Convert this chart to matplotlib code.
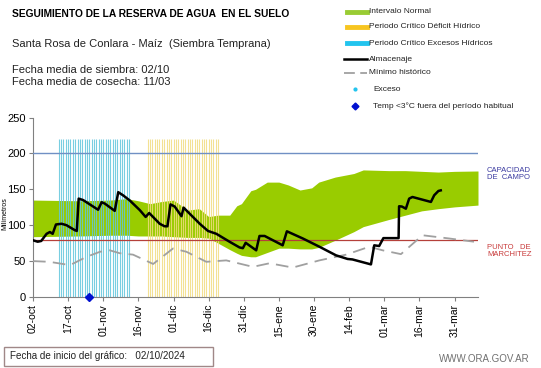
import numpy as np
import matplotlib.pyplot as plt
from matplotlib.lines import Line2D
from matplotlib.patches import Rectangle

plt.rcParams['font.family'] = ['Liberation Sans', 'DejaVu Sans']

# --- Data (x = days since 02-oct) ---
tick_days = [0, 15, 30, 45, 60, 75, 90, 105, 120, 135, 150, 165, 180]
tick_labels = ['02-oct', '17-oct', '01-nov', '16-nov', '01-dic', '16-dic', '31-dic',
               '15-ene', '30-ene', '14-feb', '01-mar', '16-mar', '31-mar']

# Almacenaje (stored water, mm)
alm_days = [0, 2, 3.5, 5.8, 7.2, 8.4, 9.8, 12.2, 14.3, 17.9, 18.7, 19.5, 21.4, 27.8, 29.3,
            30.7, 34.9, 36.4, 38.5, 41.3, 45.6, 48.1, 49.6, 54.1, 56.2, 57.4, 58.7, 60.5,
            63.4, 64.3, 66.9, 71.2, 74.7, 78.3, 83.9, 88.2, 89.6, 90.8, 95.3, 96.7, 98.9,
            106.6, 108.4, 115.2, 122.3, 129.4, 134.3, 136.4, 144.3, 145.7, 147.8, 149.6,
            155, 156.1, 156.3, 157.5, 159.2, 160.6, 162, 169.9, 171.3, 173.1, 174.1]
alm_vals = [79, 77, 78, 88, 90.5, 88, 101, 102, 100, 93, 92, 137, 135, 121.5, 132,
            130, 120, 146, 141.5, 134.5, 121, 111.5, 117, 102, 98.5, 98.5, 129, 126,
            112.5, 124.5, 116, 102, 92, 88, 77, 69, 68, 75.5, 65, 85, 85,
            72, 91.5, 81.5, 70, 58, 53, 52.3, 45.4, 72, 71, 82,
            82, 82, 126.4, 126, 123, 137, 139.3, 132.4, 141.7, 147.7, 148.5]

# Mínimo histórico (mm)
min_days = [0, 7, 15.8, 22.9, 28.6, 32.8, 37, 42.7, 51.3, 59.8, 65.5, 74, 82.5, 93.9,
            101, 110.9, 122.3, 133.7, 143.6, 149.3, 157.1, 166.3, 177.7, 188.3]
min_vals = [50, 49, 44.4, 56, 63, 65, 61, 59, 46, 67.6, 63, 49, 51, 42,
            47, 41, 51, 59, 70, 65, 59.7, 86, 81.5, 77]

# Intervalo normal (mm)
band_days = [0, 20, 33, 40, 45, 50, 55, 60, 66, 71, 75, 79, 84, 87, 89, 93, 95, 100, 105,
             109, 114, 119, 122, 129, 137, 141, 152, 159, 166, 173, 180, 190]
band_high = [135, 134, 135, 137, 134, 130, 133, 135, 121, 123, 112, 114, 114, 127, 130, 148,
             150, 160, 160, 156, 149, 152, 160, 167, 172, 177, 176, 176, 175, 174, 175, 175.5]
band_low = [84, 85, 86, 86, 85, 85, 85, 84, 83, 83, 82, 75, 66, 61, 58, 56, 56, 62, 68,
            68, 67, 67, 69, 79, 91, 98, 108, 114, 120, 123, 125.5, 128]

capacidad_campo = 201
punto_marchitez = 80
exceso_dias = np.arange(11, 42)
deficit_dias = np.arange(49, 80)
temp_frio_dias = [24]

# --- Figure ---
fig = plt.figure(figsize=(5.41, 3.68), dpi=100)
W, H = 541, 368
ax = fig.add_axes([33 / W, 1 - 297 / H, (478 - 33) / W, (297 - 117.5) / H])

ax.fill_between(band_days, band_low, band_high, color='#99cc00', lw=0, zorder=1)
ax.vlines(exceso_dias, 0, 220, color='#62c6dc', lw=0.8, alpha=0.85, zorder=2)
ax.vlines(deficit_dias, 0, 220, color='#f1dc80', lw=0.8, alpha=0.85, zorder=2)

ax.axhline(capacidad_campo, color='#7090c4', lw=1.0, zorder=3)
ax.axhline(punto_marchitez, color='#b5403a', lw=0.9, zorder=3)

ax.plot(min_days, min_vals, color='#a0a0a0', lw=1.3, dashes=(7, 4), zorder=4)
ax.plot(alm_days, alm_vals, color='black', lw=1.8, zorder=5)
ax.plot(temp_frio_dias, [0] * len(temp_frio_dias), 'D', color='#0010d0', ms=4.5,
        zorder=6, clip_on=False)

ax.set_xlim(0, 190)
ax.set_ylim(0, 250)
ax.set_yticks([0, 50, 100, 150, 200, 250])
ax.set_xticks(tick_days)
ax.set_xticklabels(tick_labels, rotation=90, fontsize=7.5)
ax.tick_params(axis='y', labelsize=8, length=3, color='#808080', pad=2)
ax.tick_params(axis='x', length=3, color='#808080', pad=2)
for s in ['top', 'right']:
    ax.spines[s].set_visible(False)
for s in ['left', 'bottom']:
    ax.spines[s].set_color('#808080')
ax.set_facecolor('none')
fig.text(4.5 / W, 1 - 214 / H, 'Milímetros', rotation=90, fontsize=5,
         ha='center', va='center')

# labels on the right
fig.text(487 / W, 1 - 174 / H, 'CAPACIDAD\nDE  CAMPO', color='#3a3aa0', fontsize=5.5,
         va='center', linespacing=1.0)
fig.text(487 / W, 1 - 251 / H, 'PUNTO   DE\nMARCHITEZ', color='#c83a3a', fontsize=5.5,
         va='center', linespacing=1.0)

# titles
fig.text(12 / W, 1 - 14 / H, 'SEGUIMIENTO DE LA RESERVA DE AGUA  EN EL SUELO',
         fontsize=7.4, fontweight='bold', va='center')
fig.text(12 / W, 1 - 44 / H, 'Santa Rosa de Conlara - Maíz  (Siembra Temprana)',
         fontsize=8, va='center', color='#222222')
fig.text(12 / W, 1 - 70 / H, 'Fecha media de siembra: 02/10', fontsize=8,
         va='center', color='#222222')
fig.text(12 / W, 1 - 82 / H, 'Fecha media de cosecha: 11/03', fontsize=8,
         va='center', color='#222222')

# legend (drawn by hand)
leg_y = [11.7, 26.7, 43.3, 59.3, 72.7, 89.3, 106]
leg_txt = ['Intervalo Normal', 'Periodo Crítico Déficit Hídrico',
           'Periodo Crítico Excesos Hídricos', 'Almacenaje', 'Mínimo histórico',
           'Exceso', 'Temp <3°C fuera del período habitual']
for i, (y, t) in enumerate(zip(leg_y, leg_txt)):
    yf = 1 - y / H
    tx = 369 if i < 5 else 373
    fig.text(tx / W, yf, t, fontsize=6, va='center', color='#222222')
xs = [347 / W, 367 / W]
fig.add_artist(Line2D(xs, [1 - leg_y[0] / H] * 2, color='#99cc33', lw=3.5))
fig.add_artist(Line2D(xs, [1 - leg_y[1] / H] * 2, color='#f7c520', lw=3.5))
fig.add_artist(Line2D(xs, [1 - leg_y[2] / H] * 2, color='#22c4ee', lw=3.5))
fig.add_artist(Line2D([344 / W, 367 / W], [1 - leg_y[3] / H] * 2, color='black', lw=1.8))
fig.add_artist(Line2D([344 / W, 367 / W], [1 - leg_y[4] / H] * 2, color='#a0a0a0',
                      lw=1.3, dashes=(6, 3)))
fig.add_artist(Line2D([355 / W], [1 - leg_y[5] / H], marker='o', color='#22c4ee', ms=2))
fig.add_artist(Line2D([355 / W], [1 - leg_y[6] / H], marker='D', color='#0010d0', ms=3.5))

# footer
fig.add_artist(Rectangle((4 / W, 1 - 366 / H), 209 / W, 19 / H, transform=fig.transFigure,
                         fill=False, edgecolor='#a08888', lw=1))
fig.text(10 / W, 1 - 356 / H, 'Fecha de inicio del gráfico:   02/10/2024', fontsize=7.1,
         va='center', color='#222222')
fig.text(530 / W, 1 - 359 / H, 'WWW.ORA.GOV.AR', fontsize=7, va='center', ha='right',
         color='#707070')

fig.savefig('out.png', dpi=100)
